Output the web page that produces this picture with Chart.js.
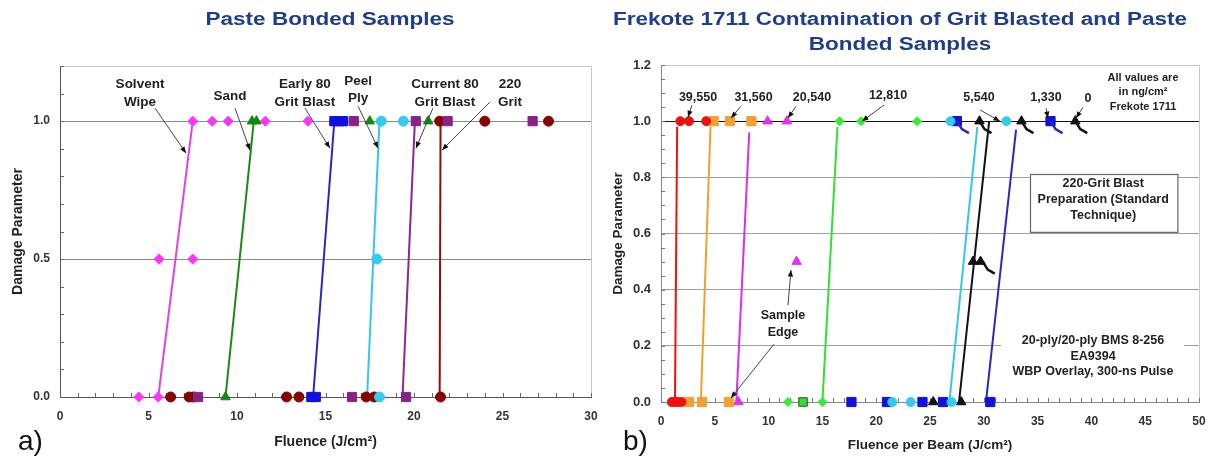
<!DOCTYPE html>
<html>
<head>
<meta charset="utf-8">
<script src="https://cdn.jsdelivr.net/npm/chart.js@4.4.1/dist/chart.umd.min.js"></script>
<style>
html, body { margin: 0; padding: 0; background: #fff; }
#wrap { position: relative; width: 1211px; height: 456px; }
.panel { position: absolute; top: 0; height: 456px; }
#panelA { left: 0; width: 605px; }
#panelB { left: 605px; width: 606px; }
</style>
</head>
<body>
<div id="wrap">
  <div class="panel" id="panelA"><canvas id="chartA"></canvas></div>
  <div class="panel" id="panelB"><canvas id="chartB"></canvas></div>
</div>
<script>
// ---- a) Paste bonded samples ----
const xTicksA = [0, 5, 10, 15, 20, 25, 30];
const yTicksA = [0, 0.5, 1.0];

const solventX = [4.45, 5.55, 5.6, 7.5, 7.5, 8.6, 9.5, 11.6, 14.0];
const solventY = [0, 0, 0.5, 0.5, 1, 1, 1, 1, 1];
const sandX = [9.35, 10.85, 11.1, 17.5, 20.8];
const sandY = [0, 1, 1, 1, 1];
const early80X = [14.2, 14.45, 15.5, 15.8, 16.0];
const early80Y = [0, 0, 1, 1, 1];
const peelPlyX = [18.05, 17.9, 18.15, 19.4];
const peelPlyY = [0, 0.5, 1, 1];
const current80X = [7.8, 16.5, 19.55, 16.6, 20.1, 21.9, 26.7];
const current80Y = [0, 0, 0, 1, 1, 1, 1];
const grit220X = [6.25, 7.3, 7.55, 12.8, 13.5, 17.3, 17.75, 21.5, 21.45, 24.0, 27.6];
const grit220Y = [0, 0, 0, 0, 0, 0, 0, 0, 1, 1, 1];

// threshold lines (x at damage 0 -> x at damage 1)
const fitYA = [0, 1];
const solventFitX = [5.55, 7.5];
const sandFitX = [9.35, 10.95];
const early80FitX = [14.3, 15.5];
const peelPlyFitX = [17.35, 18.05];
const current80FitX = [19.35, 20.05];
const grit220FitX = [21.45, 21.5];

// ---- b) Frekote 1711 contamination ----
const xTicksB = [0, 5, 10, 15, 20, 25, 30, 35, 40, 45, 50];
const yTicksB = [0, 0.2, 0.4, 0.6, 0.8, 1.0, 1.2];

const c39550X = [1.0, 1.3, 1.6, 1.9, 1.8, 2.6, 4.2];
const c39550Y = [0, 0, 0, 0, 1, 1, 1];
const c31560X = [2.6, 3.8, 6.3, 4.9, 6.4, 8.4];
const c31560Y = [0, 0, 0, 1, 1, 1];
const c20540X = [7.2, 12.6, 9.9, 11.7];
const c20540Y = [0, 0.5, 1, 1];
const c12810X = [11.8, 15.0, 16.6, 18.6, 23.8];
const c12810Y = [0, 0, 1, 1, 1];
const edgeX = [13.2];
const edgeY = [0];
const c5540X = [21.5, 23.2, 27.0, 26.9, 32.1];
const c5540Y = [0, 0, 0, 1, 1];
const c1330X = [17.7, 21.0, 24.3, 26.2, 30.6, 27.5, 36.2];
const c1330Y = [0, 0, 0, 0, 0, 1, 1];
const c0X = [25.3, 27.9, 29.0, 29.7, 29.6, 33.5, 38.5];
const c0Y = [0, 0, 0.5, 0.5, 1, 1, 1];

const c39550FitX = [1.3, 1.5];
const c39550FitY = [0, 0.98];
const c31560FitX = [3.7, 4.6];
const c31560FitY = [0, 0.98];
const c20540FitX = [7.0, 8.2];
const c20540FitY = [0, 0.96];
const c12810FitX = [15.0, 16.4];
const c12810FitY = [0, 0.98];
const c5540FitX = [26.8, 29.4];
const c5540FitY = [0, 0.98];
const c0FitX = [27.7, 30.5];
const c0FitY = [0, 1];
const c1330FitX = [30.2, 33.0];
const c1330FitY = [0, 0.97];

// runout tails on some points
const blueTailX = [27.5, 36.2];
const blueTailY = [1, 1];
const blackTailX = [29.6, 33.5, 38.5, 29.9];
const blackTailY = [1, 1, 1, 0.5];

const FONT = "'Liberation Sans', Arial, sans-serif";
Chart.defaults.font.family = FONT;

function pts(xs, ys) {
    return xs.map((x, i) => ({ x: x, y: ys[i] }));
}

function markers(label, xs, ys, style, color, radius, border) {
    return {
        type: 'scatter', label: label, data: pts(xs, ys),
        pointStyle: style, pointRadius: radius, pointHoverRadius: radius,
        backgroundColor: color, borderColor: border || color, borderWidth: 1,
        showLine: false, clip: false, order: 1
    };
}

function fitLine(label, xs, ys, color) {
    return {
        type: 'line', label: label, data: pts(xs, ys),
        borderColor: color, borderWidth: 2, pointRadius: 0,
        fill: false, tension: 0, clip: false, order: 2
    };
}

function drawText(ctx, str, px, py, font, color, align, sx, rot) {
    ctx.save();
    ctx.translate(px, py);
    if (rot) ctx.rotate(rot);
    ctx.scale(sx || 1, 1);
    ctx.font = font;
    ctx.fillStyle = color;
    ctx.textAlign = align || 'center';
    ctx.textBaseline = 'middle';
    ctx.fillText(str, 0, 0);
    ctx.restore();
}

function drawArrow(ctx, x1, y1, x2, y2) {
    ctx.strokeStyle = '#444';
    ctx.lineWidth = 1;
    ctx.beginPath();
    ctx.moveTo(x1, y1);
    ctx.lineTo(x2, y2);
    ctx.stroke();
    const a = Math.atan2(y2 - y1, x2 - x1), L = 7;
    ctx.fillStyle = '#111';
    ctx.beginPath();
    ctx.moveTo(x2, y2);
    ctx.lineTo(x2 - L * Math.cos(a - 0.38), y2 - L * Math.sin(a - 0.38));
    ctx.lineTo(x2 - L * Math.cos(a + 0.38), y2 - L * Math.sin(a + 0.38));
    ctx.closePath();
    ctx.fill();
}

// annotations, frame, minor ticks and titles
const notesPlugin = {
    id: 'notes',
    beforeDatasetsDraw(chart, args, o) {
        const ctx = chart.ctx, area = chart.chartArea;
        const sx = chart.scales.x, sy = chart.scales.y;
        ctx.save();
        (o.boxes || []).forEach(b => {
            const l = sx.getPixelForValue(b.x0), r = sx.getPixelForValue(b.x1);
            const t = sy.getPixelForValue(b.y1), bt = sy.getPixelForValue(b.y0);
            ctx.fillStyle = '#fff';
            ctx.fillRect(l, t, r - l, bt - t);
            if (b.stroke) {
                ctx.strokeStyle = b.stroke;
                ctx.lineWidth = 1.2;
                ctx.strokeRect(Math.round(l) + 0.5, Math.round(t) + 0.5, r - l, bt - t);
            }
        });
        // top / right frame
        ctx.strokeStyle = o.frame;
        ctx.lineWidth = 1;
        ctx.beginPath();
        ctx.moveTo(area.left, Math.round(area.top) + 0.5);
        ctx.lineTo(Math.round(area.right) + 0.5, Math.round(area.top) + 0.5);
        ctx.lineTo(Math.round(area.right) + 0.5, area.bottom);
        ctx.stroke();
        // minor ticks pointing inwards
        ctx.strokeStyle = o.tickColor;
        ctx.beginPath();
        for (let v = sx.min; v <= sx.max + 1e-9; v += o.xMinor) {
            const p = Math.round(sx.getPixelForValue(v)) + 0.5;
            ctx.moveTo(p, area.bottom);
            ctx.lineTo(p, area.bottom - 4);
        }
        for (let v = sy.min; v <= sy.max + 1e-9; v += o.yMinor) {
            const p = Math.round(sy.getPixelForValue(v)) + 0.5;
            ctx.moveTo(area.left, p);
            ctx.lineTo(area.left + 4, p);
        }
        ctx.stroke();
        ctx.restore();
    },
    afterDatasetsDraw(chart, args, o) {
        const ctx = chart.ctx;
        const sx = chart.scales.x, sy = chart.scales.y;
        const X = v => sx.getPixelForValue(v), Y = v => sy.getPixelForValue(v);
        ctx.save();
        (o.tails || []).forEach(t => {
            ctx.strokeStyle = t.color;
            ctx.lineWidth = 2.5;
            t.xs.forEach((xv, i) => {
                const px = X(xv), py = Y(t.ys[i]);
                ctx.beginPath();
                ctx.moveTo(px, py);
                ctx.lineTo(px + 5, py + 8);
                ctx.lineTo(px + 12, py + 12);
                ctx.stroke();
            });
        });
        (o.arrows || []).forEach(a => drawArrow(ctx, X(a[0]), Y(a[1]), X(a[2]), Y(a[3])));
        (o.labels || []).forEach(l => {
            const n = l.lines.length;
            l.lines.forEach((s, i) => {
                drawText(ctx, s, X(l.x), Y(l.y) + (i - (n - 1) / 2) * l.lh, l.font, '#222', 'center');
            });
        });
        ctx.restore();
    },
    afterDraw(chart, args, o) {
        const ctx = chart.ctx, area = chart.chartArea;
        const t = o.title;
        t.lines.forEach((s, i) => {
            drawText(ctx, s, t.cx, t.cy + i * t.lh, 'bold 18px ' + FONT, '#1f3d8f', 'center', 1.25);
        });
        const midY = (area.top + area.bottom) / 2, midX = (area.left + area.right) / 2;
        drawText(ctx, 'Damage Parameter', o.yTitleX, midY, o.axisFont, '#222', 'center', 1, -Math.PI / 2);
        drawText(ctx, o.xTitle, midX, o.xTitleY, o.axisFont, '#222', 'center');
        drawText(ctx, o.letter, 18, 442, '28px ' + FONT, '#111', 'left');
    }
};

function axes(xMax, yMax, xTicks, yTicks, yW, xH, yFont, gridColor, frameColor) {
    return {
        x: {
            type: 'linear', min: 0, max: xMax,
            afterBuildTicks: s => { s.ticks = xTicks.map(v => ({ value: v })); },
            afterFit: s => { s.height = xH; s.paddingLeft = 0; s.paddingRight = 0; },
            ticks: {
                callback: v => String(v), autoSkip: false, maxRotation: 0,
                font: { size: 12, weight: 'bold' }, color: '#333', padding: 12
            },
            grid: { drawTicks: false, drawOnChartArea: false, color: 'rgba(0,0,0,0)' },
            border: { color: frameColor, width: 1 }
        },
        y: {
            type: 'linear', min: 0, max: yMax,
            afterBuildTicks: s => { s.ticks = yTicks.map(v => ({ value: v })); },
            afterFit: s => { s.width = yW; },
            ticks: {
                callback: v => v.toFixed(1),
                font: { size: yFont, weight: 'bold' }, color: '#333', padding: 10
            },
            grid: { drawTicks: false, color: gridColor, lineWidth: 1 },
            border: { color: frameColor, width: 1 }
        }
    };
}

function initCharts() {
    if (typeof Chart === 'undefined') {
        console.error('Chart.js not loaded');
        return;
    }

    // panel a
    new Chart(document.getElementById('chartA').getContext('2d'), {
        type: 'scatter',
        data: {
            datasets: [
                fitLine('Solvent Wipe fit', solventFitX, fitYA, '#e040e8'),
                fitLine('Sand fit', sandFitX, fitYA, '#1a8a1a'),
                fitLine('Early 80 fit', early80FitX, fitYA, '#2a2ab8'),
                fitLine('Peel Ply fit', peelPlyFitX, fitYA, '#33c8e8'),
                fitLine('Current 80 fit', current80FitX, fitYA, '#8a2a8a'),
                fitLine('220 Grit fit', grit220FitX, fitYA, '#8a1010'),
                markers('Solvent Wipe', solventX, solventY, 'rectRot', '#ff33ff', 5),
                markers('Sand', sandX, sandY, 'triangle', '#118811', 5.5),
                markers('Early 80 Grit Blast', early80X, early80Y, 'rect', '#1010e0', 6.5),
                markers('Peel Ply', peelPlyX, peelPlyY, 'circle', '#33ccee', 5),
                markers('Current 80 Grit Blast', current80X, current80Y, 'rect', '#882288', 6.5),
                markers('220 Grit', grit220X, grit220Y, 'circle', '#880000', 5)
            ]
        },
        options: {
            responsive: true, maintainAspectRatio: false, animation: false,
            layout: { padding: { top: 66, right: 14, left: 0, bottom: 0 } },
            scales: axes(30, 1.2, xTicksA, yTicksA, 60, 59, 12,
                c => (c.tick && c.tick.value > 0 ? '#8a8a8a' : 'rgba(0,0,0,0)'), '#555'),
            plugins: {
                legend: { display: false },
                tooltip: { enabled: false },
                notes: {
                    frame: '#c8c8c8', tickColor: '#666', xMinor: 1, yMinor: 0.1,
                    title: { lines: ['Paste Bonded Samples'], cx: 330, cy: 20, lh: 25 },
                    yTitleX: 18, xTitle: 'Fluence (J/cm²)', xTitleY: 442,
                    axisFont: 'bold 14px ' + FONT, letter: 'a)',
                    labels: [
                        { x: 4.52, y: 1.101, lh: 18, font: 'bold 13.5px ' + FONT, lines: ['Solvent', 'Wipe'] },
                        { x: 9.6, y: 1.09, lh: 18, font: 'bold 13.5px ' + FONT, lines: ['Sand'] },
                        { x: 13.84, y: 1.101, lh: 18, font: 'bold 13.5px ' + FONT, lines: ['Early 80', 'Grit Blast'] },
                        { x: 16.84, y: 1.112, lh: 17, font: 'bold 13.5px ' + FONT, lines: ['Peel', 'Ply'] },
                        { x: 21.75, y: 1.101, lh: 18, font: 'bold 13.5px ' + FONT, lines: ['Current 80', 'Grit Blast'] },
                        { x: 25.42, y: 1.101, lh: 18, font: 'bold 13.5px ' + FONT, lines: ['220', 'Grit'] }
                    ],
                    arrows: [
                        [5.37, 1.047, 7.12, 0.884],
                        [9.89, 1.047, 10.73, 0.895],
                        [13.84, 1.047, 15.25, 0.902],
                        [16.84, 1.054, 17.97, 0.902],
                        [21.07, 1.047, 20.11, 0.902],
                        [24.29, 1.069, 21.58, 0.895]
                    ]
                }
            }
        },
        plugins: [notesPlugin]
    });

    // panel b
    new Chart(document.getElementById('chartB').getContext('2d'), {
        type: 'scatter',
        data: {
            datasets: [
                fitLine('39,550 fit', c39550FitX, c39550FitY, '#ee1111'),
                fitLine('31,560 fit', c31560FitX, c31560FitY, '#f0a030'),
                fitLine('20,540 fit', c20540FitX, c20540FitY, '#d830e8'),
                fitLine('12,810 fit', c12810FitX, c12810FitY, '#33e033'),
                fitLine('5,540 fit', c5540FitX, c5540FitY, '#33c8e8'),
                fitLine('0 fit', c0FitX, c0FitY, '#111111'),
                fitLine('1,330 fit', c1330FitX, c1330FitY, '#2a2ab8'),
                markers('39,550', c39550X, c39550Y, 'circle', '#ee1111', 4.5),
                markers('31,560', c31560X, c31560Y, 'rect', '#f5a030', 6.5),
                markers('20,540', c20540X, c20540Y, 'triangle', '#e033ee', 5.5),
                markers('12,810', c12810X, c12810Y, 'rectRot', '#33ee33', 4.5),
                markers('Sample edge', edgeX, edgeY, 'rect', '#33dd33', 6, '#225522'),
                markers('5,540', c5540X, c5540Y, 'circle', '#33ccee', 4.5),
                markers('1,330', c1330X, c1330Y, 'rect', '#1111dd', 6.5),
                markers('0', c0X, c0Y, 'triangle', '#111111', 5.5)
            ]
        },
        options: {
            responsive: true, maintainAspectRatio: false, animation: false,
            layout: { padding: { top: 65, right: 12, left: 0, bottom: 0 } },
            scales: axes(50, 1.2, xTicksB, yTicksB, 56, 54, 13,
                c => {
                    const v = c.tick ? c.tick.value : 0;
                    if (Math.abs(v - 1) < 1e-6) return '#111';
                    return (v > 0 && v < 1.1) ? '#a0a0a0' : 'rgba(0,0,0,0)';
                }, '#888'),
            plugins: {
                legend: { display: false },
                tooltip: { enabled: false },
                notes: {
                    frame: '#c8c8c8', tickColor: '#777', xMinor: 1, yMinor: 0.05,
                    title: { lines: ['Frekote 1711 Contamination of Grit Blasted and Paste', 'Bonded Samples'], cx: 295, cy: 20, lh: 25 },
                    yTitleX: 13, xTitle: 'Fluence per Beam (J/cm²)', xTitleY: 445,
                    axisFont: 'bold 13.5px ' + FONT, letter: 'b)',
                    boxes: [
                        { x0: 34.3, x1: 48.0, y0: 0.605, y1: 0.811, stroke: '#666' },
                        { x0: 31.6, x1: 48.6, y0: 0.07, y1: 0.255 }
                    ],
                    tails: [
                        { color: '#2a2ab8', xs: blueTailX, ys: blueTailY },
                        { color: '#111', xs: blackTailX, ys: blackTailY }
                    ],
                    labels: [
                        { x: 3.44, y: 1.085, lh: 15, font: 'bold 12.5px ' + FONT, lines: ['39,550'] },
                        { x: 8.6, y: 1.085, lh: 15, font: 'bold 12.5px ' + FONT, lines: ['31,560'] },
                        { x: 14.03, y: 1.085, lh: 15, font: 'bold 12.5px ' + FONT, lines: ['20,540'] },
                        { x: 21.1, y: 1.093, lh: 15, font: 'bold 12.5px ' + FONT, lines: ['12,810'] },
                        { x: 29.55, y: 1.085, lh: 15, font: 'bold 12.5px ' + FONT, lines: ['5,540'] },
                        { x: 35.78, y: 1.085, lh: 15, font: 'bold 12.5px ' + FONT, lines: ['1,330'] },
                        { x: 39.68, y: 1.082, lh: 15, font: 'bold 12.5px ' + FONT, lines: ['0'] },
                        { x: 44.8, y: 1.103, lh: 14.5, font: 'bold 11px ' + FONT, lines: ['All values are', 'in ng/cm²', 'Frekote 1711'] },
                        { x: 41.1, y: 0.722, lh: 16, font: 'bold 12.5px ' + FONT, lines: ['220-Grit Blast', 'Preparation (Standard', 'Technique)'] },
                        { x: 40.15, y: 0.162, lh: 15.5, font: 'bold 12.5px ' + FONT, lines: ['20-ply/20-ply BMS 8-256', 'EA9394', 'WBP Overlay, 300-ns Pulse'] },
                        { x: 11.34, y: 0.276, lh: 17, font: 'bold 12.5px ' + FONT, lines: ['Sample', 'Edge'] }
                    ],
                    arrows: [
                        [2.88, 1.057, 2.51, 1.014],
                        [7.43, 1.053, 6.51, 1.011],
                        [12.55, 1.053, 11.8, 1.011],
                        [20.72, 1.057, 18.68, 1.0],
                        [29.65, 1.04, 31.5, 1.0],
                        [35.78, 1.046, 35.97, 1.011],
                        [39.22, 1.05, 38.57, 1.011],
                        [11.8, 0.345, 12.08, 0.47],
                        [10.5, 0.206, 6.5, 0.014]
                    ]
                }
            }
        },
        plugins: [notesPlugin]
    });
}

if (document.readyState === 'loading') {
    document.addEventListener('DOMContentLoaded', initCharts);
} else {
    initCharts();
}
</script>
</body>
</html>
